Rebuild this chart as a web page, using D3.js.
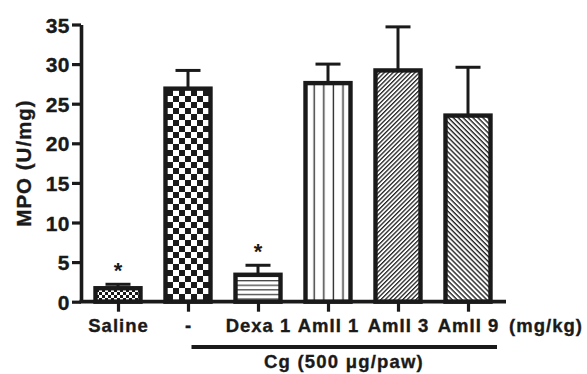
<!DOCTYPE html>
<html><head><meta charset="utf-8">
<script src="https://cdn.jsdelivr.net/npm/d3@7"></script>
<style>
body{margin:0;background:#fff;}
svg{display:block;}
text{font-family:"Liberation Sans",Arial,sans-serif;font-weight:bold;fill:#1a1a1a;stroke:#1a1a1a;stroke-width:0.35px;}
</style></head><body>
<svg id="c" width="587" height="374"></svg>
<script>
const categories = ["Saline","-","Dexa 1","AmII 1","AmII 3","AmII 9"];
const values = [1.7, 26.9, 3.4, 27.6, 29.2, 23.5];
const errors = [0.5, 2.3, 1.2, 2.4, 5.5, 6.1];
const significant = [true, false, true, false, false, false];
const yTicks = [0,5,10,15,20,25,30,35];
const patterns = ["pSal","pChk","pHor","pVer","pDiagR","pDiagL"];

const svg = d3.select("#c");
const defs = svg.append("defs");
const ink = "#1a1a1a";

// patterns
let p = defs.append("pattern").attr("id","pSal").attr("patternUnits","userSpaceOnUse").attr("width",6).attr("height",6).attr("x",0).attr("y",1);
p.append("rect").attr("width",6).attr("height",6).attr("fill","#fff");
p.append("rect").attr("width",3).attr("height",3).attr("fill",ink);
p.append("rect").attr("x",3).attr("y",3).attr("width",3).attr("height",3).attr("fill",ink);

p = defs.append("pattern").attr("id","pChk").attr("patternUnits","userSpaceOnUse").attr("width",12).attr("height",12).attr("x",167).attr("y",90);
p.append("rect").attr("width",12).attr("height",12).attr("fill","#fff");
p.append("rect").attr("width",6).attr("height",6).attr("fill",ink);
p.append("rect").attr("x",6).attr("y",6).attr("width",6).attr("height",6).attr("fill",ink);

p = defs.append("pattern").attr("id","pHor").attr("patternUnits","userSpaceOnUse").attr("width",10).attr("height",4.6).attr("y",280);
p.append("rect").attr("width",10).attr("height",4.6).attr("fill","#fff");
p.append("rect").attr("y",0).attr("width",10).attr("height",1.3).attr("fill","#444");

p = defs.append("pattern").attr("id","pVer").attr("patternUnits","userSpaceOnUse").attr("width",9.6).attr("height",10).attr("x",309);
p.append("rect").attr("width",9.6).attr("height",10).attr("fill","#fff");
p.append("rect").attr("x",4.5).attr("width",1.4).attr("height",10).attr("fill","#333");

p = defs.append("pattern").attr("id","pDiagR").attr("patternUnits","userSpaceOnUse").attr("width",10).attr("height",3.1).attr("patternTransform","rotate(-45)");
p.append("rect").attr("width",10).attr("height",3.1).attr("fill","#fff");
p.append("rect").attr("width",10).attr("height",1.3).attr("fill","#222");

p = defs.append("pattern").attr("id","pDiagL").attr("patternUnits","userSpaceOnUse").attr("width",10).attr("height",3.5).attr("patternTransform","rotate(45)");
p.append("rect").attr("width",10).attr("height",3.5).attr("fill","#fff");
p.append("rect").attr("width",10).attr("height",1.4).attr("fill","#222");

const x = d3.scalePoint().domain(categories).range([83,503]).padding(0.5);
const y = d3.scaleLinear().domain([0,35]).range([301.7,24.5]);
const bw = 45;

// y axis
const ya = svg.append("g").attr("transform","translate(81,0)")
  .call(d3.axisLeft(y).tickValues(yTicks).tickSize(9).tickSizeOuter(0).tickPadding(2));
ya.select(".domain").attr("stroke",ink).attr("stroke-width",3.6);
ya.selectAll(".tick line").attr("stroke",ink).attr("stroke-width",3.2);
ya.selectAll(".tick text").attr("font-size",21).attr("letter-spacing","0.5px").attr("fill",ink)
  .attr("font-family","Liberation Sans, Arial, sans-serif").attr("font-weight","bold").attr("dy","0.36em");

// bars
const g = svg.append("g");
categories.forEach((c,i)=>{
  const cx = x(c);
  // error bar (upper only)
  g.append("line").attr("x1",cx).attr("x2",cx).attr("y1",y(values[i])).attr("y2",y(values[i]+errors[i]))
    .attr("stroke",ink).attr("stroke-width",3);
  g.append("line").attr("x1",cx-12.5).attr("x2",cx+12.5).attr("y1",y(values[i]+errors[i])).attr("y2",y(values[i]+errors[i]))
    .attr("stroke",ink).attr("stroke-width",3);
  g.append("rect").attr("x",cx-bw/2).attr("width",bw).attr("y",y(values[i])).attr("height",y(0)-y(values[i]))
    .attr("fill","url(#"+patterns[i]+")").attr("stroke",ink).attr("stroke-width",4.4);
  if(significant[i]){
    g.append("text").attr("x",cx).attr("y",y(values[i]+errors[i])-6).attr("text-anchor","middle")
      .attr("font-size",22).style("stroke-width","0px").attr("font-weight","normal").text("*");
  }
});

// x axis
svg.append("line").attr("x1",79.5).attr("x2",506).attr("y1",y(0)).attr("y2",y(0)).attr("stroke",ink).attr("stroke-width",3.8);
const xa = svg.append("g").attr("transform","translate(0,"+y(0)+")")
  .call(d3.axisBottom(x).tickSize(10).tickSizeOuter(0));
xa.select(".domain").remove();
xa.selectAll(".tick line").attr("stroke",ink).attr("stroke-width",3.2);
xa.selectAll(".tick text").attr("font-size",18.5).attr("letter-spacing","1px").attr("fill",ink)
  .attr("font-family","Liberation Sans, Arial, sans-serif").attr("font-weight","bold")
  .attr("y",30).attr("dy",0);

svg.append("text").attr("x",546).attr("y",y(0)+30).attr("text-anchor","middle").attr("font-size",18.5)
  .attr("letter-spacing","1px").text("(mg/kg)");

// Cg underline
svg.append("line").attr("x1",191.5).attr("x2",497).attr("y1",347).attr("y2",347).attr("stroke",ink).attr("stroke-width",4);
svg.append("text").attr("x",344).attr("y",368).attr("text-anchor","middle").attr("font-size",18.5)
  .attr("letter-spacing","1.2px").text("Cg (500 μg/paw)");

// y label
svg.append("text").attr("transform","translate(31,163) rotate(-90)").attr("text-anchor","middle")
  .attr("font-size",20.5).attr("letter-spacing","1px").text("MPO (U/mg)");
</script>
</body></html>
